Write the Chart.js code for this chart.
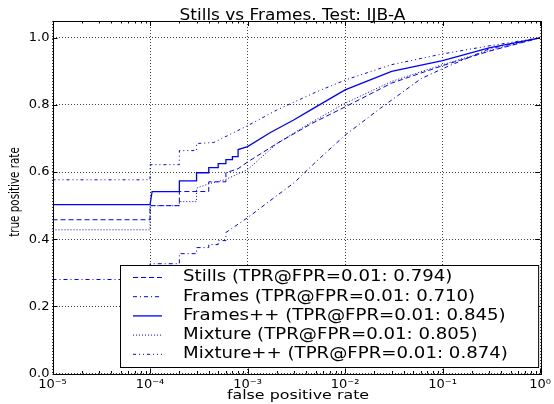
<!DOCTYPE html>
<html>
<head>
<meta charset="utf-8">
<script src="https://cdn.jsdelivr.net/npm/chart.js@4"></script>
<style>
  html, body { margin: 0; padding: 0; background: #fff; }
  canvas { display: block; }
</style>
</head>
<body>
<canvas id="rocChart" width="554" height="404"></canvas>
<script>
// axis ticks
const xTickValues = [1e-5, 1e-4, 1e-3, 1e-2, 1e-1, 1];
const xTickLabels = ["10⁻⁵", "10⁻⁴", "10⁻³", "10⁻²", "10⁻¹", "10⁰"];

// ROC curves (fpr / tpr)
const stillsFpr = [1e-5, 1e-4, 1e-4, 2e-4, 2e-4, 4e-4, 4e-4, 6e-4, 6e-4, 8e-4, 1e-3, 2e-3, 4.5e-3, 1e-2, 3e-2, 1e-1, 3e-1, 1];
const stillsTpr = [0.458, 0.458, 0.5, 0.5, 0.542, 0.542, 0.571, 0.571, 0.598, 0.61, 0.63, 0.685, 0.744, 0.794, 0.865, 0.917, 0.96, 1.0];

const framesFpr = [1e-5, 1e-4, 1e-4, 2e-4, 2e-4, 3e-4, 3e-4, 4e-4, 4e-4, 5e-4, 5e-4, 6e-4, 6e-4, 1e-3, 2e-3, 3e-3, 5e-3, 1e-2, 2.3e-2, 6e-2, 1e-1, 3e-1, 1];
const framesTpr = [0.28, 0.28, 0.327, 0.327, 0.357, 0.357, 0.375, 0.375, 0.384, 0.384, 0.396, 0.396, 0.42, 0.464, 0.53, 0.568, 0.63, 0.71, 0.79, 0.878, 0.908, 0.967, 1.0];

const framesPlusFpr = [1e-5, 1e-4, 1.05e-4, 2e-4, 2e-4, 3e-4, 3e-4, 4e-4, 4e-4, 5e-4, 5e-4, 6e-4, 6e-4, 7e-4, 7e-4, 8e-4, 8e-4, 1e-3, 1.7e-3, 3e-3, 4.5e-3, 1e-2, 3e-2, 1e-1, 3e-1, 1];
const framesPlusTpr = [0.503, 0.503, 0.542, 0.542, 0.574, 0.574, 0.598, 0.598, 0.613, 0.613, 0.625, 0.625, 0.637, 0.637, 0.646, 0.646, 0.667, 0.676, 0.717, 0.756, 0.786, 0.845, 0.9, 0.932, 0.97, 1.0];

const mixtureFpr = [1e-5, 1e-4, 1e-4, 2e-4, 2e-4, 3e-4, 3e-4, 4e-4, 6e-4, 8e-4, 1e-3, 2e-3, 4.5e-3, 1e-2, 3e-2, 1e-1, 3e-1, 1];
const mixtureTpr = [0.428, 0.428, 0.5, 0.5, 0.512, 0.512, 0.552, 0.565, 0.578, 0.595, 0.607, 0.685, 0.748, 0.805, 0.87, 0.92, 0.962, 1.0];

const mixturePlusFpr = [1e-5, 1e-4, 1e-4, 2e-4, 2e-4, 3e-4, 3e-4, 4.5e-4, 1e-3, 2e-3, 5e-3, 1e-2, 3e-2, 1e-1, 3e-1, 1];
const mixturePlusTpr = [0.577, 0.577, 0.622, 0.622, 0.664, 0.664, 0.685, 0.688, 0.738, 0.785, 0.838, 0.874, 0.92, 0.952, 0.976, 1.0];

const seriesLabels = [
  "Stills (TPR@FPR=0.01: 0.794)",
  "Frames (TPR@FPR=0.01: 0.710)",
  "Frames++ (TPR@FPR=0.01: 0.845)",
  "Mixture (TPR@FPR=0.01: 0.805)",
  "Mixture++ (TPR@FPR=0.01: 0.874)",
];
const titleText = "Stills vs Frames. Test: IJB-A";
const xTitle = "false positive rate";
const yTitle = "true positive rate";

const toPoints = (xs, ys) => xs.map((x, i) => ({ x: x, y: ys[i] }));

function line(label, xs, ys, dash, width) {
  return {
    label: label,
    data: toPoints(xs, ys),
    borderColor: "#0000ff",
    borderWidth: width || 1,
    borderDash: dash,
    pointRadius: 0,
    fill: false,
    tension: 0,
  };
}

// the source image is a bit wider than tall, so text gets stretched too
function stretchedText(ctx, text, x, y, sx, align, rot) {
  ctx.save();
  ctx.translate(x, y);
  if (rot) ctx.rotate(rot);
  ctx.scale(sx, 1);
  ctx.textAlign = align;
  ctx.fillText(text, 0, 0);
  ctx.restore();
}

// box, inward ticks, labels and in-plot legend like matplotlib
const mplFrame = {
  id: "mplFrame",
  afterDatasetsDraw(chart) {
    const { ctx, chartArea: a, scales } = chart;
    ctx.save();
    ctx.strokeStyle = "#000";
    ctx.lineWidth = 1;
    ctx.setLineDash([]);
    ctx.beginPath();
    scales.y.ticks.forEach((t) => {
      const py = Math.round(scales.y.getPixelForValue(t.value)) + 0.5;
      ctx.moveTo(a.left, py); ctx.lineTo(a.left + 5, py);
      ctx.moveTo(a.right, py); ctx.lineTo(a.right - 5, py);
    });
    xTickValues.forEach((d) => {
      for (let k = 1; k <= 9; k++) {
        const v = d * k;
        if (v > 1) break;
        const len = k === 1 ? 5 : 2.5;
        const px = Math.round(scales.x.getPixelForValue(v)) + 0.5;
        ctx.moveTo(px, a.bottom); ctx.lineTo(px, a.bottom - len);
        ctx.moveTo(px, a.top); ctx.lineTo(px, a.top + len);
      }
    });
    ctx.stroke();
    ctx.strokeRect(Math.round(a.left) + 0.5, Math.round(a.top) + 0.5,
      Math.round(a.right - a.left), Math.round(a.bottom - a.top));
    ctx.restore();
  },
  afterDraw(chart) {
    const { ctx, chartArea: a } = chart;
    ctx.save();
    ctx.fillStyle = "#000";
    ctx.textBaseline = "alphabetic";
    ctx.font = "15px 'DejaVu Sans'";
    stretchedText(ctx, titleText, 292.5, 20, 1.13, "center");
    ctx.font = "13px 'DejaVu Sans'";
    stretchedText(ctx, xTitle, 298, 399, 1.22, "center");
    ctx.font = "14px 'DejaVu Sans'";
    stretchedText(ctx, yTitle, 18.5, 192, 0.74, "center", -Math.PI / 2);

    // legend
    const boxL = 120.5, boxR = a.right - 1.5, boxT = 265.5, boxB = 367.5;
    ctx.fillStyle = "#fff";
    ctx.fillRect(boxL, boxT, boxR - boxL, boxB - boxT);
    ctx.strokeStyle = "#000";
    ctx.lineWidth = 1;
    ctx.strokeRect(boxL, boxT, boxR - boxL, boxB - boxT);
    ctx.font = "15px 'DejaVu Sans'";
    ctx.textBaseline = "middle";
    chart.data.datasets.forEach((ds, i) => {
      const y = 277.5 + i * 19.2;
      ctx.strokeStyle = ds.borderColor;
      ctx.lineWidth = ds.borderWidth;
      ctx.setLineDash(ds.borderDash || []);
      ctx.beginPath();
      ctx.moveTo(133, y);
      ctx.lineTo(162, y);
      ctx.stroke();
      ctx.fillStyle = "#000";
      stretchedText(ctx, ds.label, 183, y, 1.21, "left");
    });
    ctx.restore();
  },
};

Chart.defaults.font.family = "'DejaVu Sans'";
Chart.defaults.color = "#000";

const ctxRoc = document.getElementById("rocChart");
new Chart(ctxRoc, {
  type: "line",
  data: {
    datasets: [
      line(seriesLabels[0], stillsFpr, stillsTpr, [5, 3]),
      line(seriesLabels[1], framesFpr, framesTpr, [4, 3, 1, 3]),
      line(seriesLabels[2], framesPlusFpr, framesPlusTpr, [], 1.3),
      line(seriesLabels[3], mixtureFpr, mixtureTpr, [1, 2]),
      line(seriesLabels[4], mixturePlusFpr, mixturePlusTpr, [3, 3, 1, 3, 1, 3]),
    ],
  },
  options: {
    responsive: false,
    animation: false,
    devicePixelRatio: 1,
    layout: { padding: { left: 0, right: 13, top: 21, bottom: 0 } },
    plugins: {
      legend: { display: false },
      tooltip: { enabled: false },
      title: { display: false },
    },
    scales: {
      x: {
        type: "logarithmic",
        min: 1e-5,
        max: 1,
        afterBuildTicks: (axis) => {
          axis.ticks = xTickValues.map((v) => ({ value: v }));
        },
        afterFit: (axis) => { axis.height = 30.5; },
        ticks: {
          autoSkip: false,
          maxRotation: 0,
          padding: 3,
          font: { size: 13 },
          callback: (v, i) => xTickLabels[i],
        },
        grid: { color: "rgba(0,0,0,0.75)", lineWidth: 1, drawTicks: false },
        border: { display: false, dash: [1, 2] },
      },
      y: {
        min: 0,
        max: 1.05,
        afterFit: (axis) => { axis.width = 52.5; },
        ticks: {
          stepSize: 0.2,
          includeBounds: false,
          padding: 3,
          font: { size: 13 },
          callback: (v) => v.toFixed(1),
        },
        grid: { color: "rgba(0,0,0,0.75)", lineWidth: 1, drawTicks: false },
        border: { display: false, dash: [1, 2] },
      },
    },
  },
  plugins: [mplFrame],
});
</script>
</body>
</html>
